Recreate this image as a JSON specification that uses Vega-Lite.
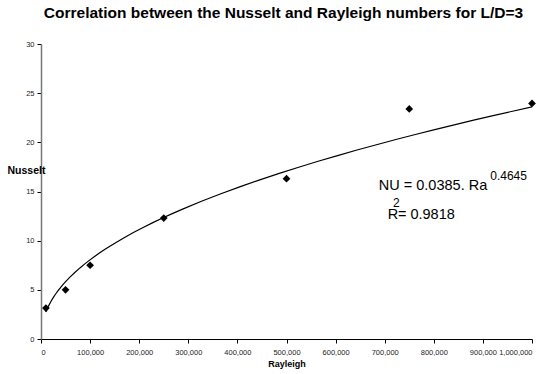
{
  "$schema": "https://vega.github.io/schema/vega-lite/v6.json",
  "autosize": {"type": "none"},
  "width": 491,
  "height": 295,
  "padding": {"left": 41, "top": 44, "right": 17, "bottom": 35},
  "background": "white",
  "config": {
    "font": "Liberation Sans",
    "view": {"stroke": null},
    "axis": {"grid": false, "labelFont": "Liberation Sans", "titleFont": "Liberation Sans"}
  },
  "title": {
    "text": "Correlation between the Nusselt and Rayleigh numbers for L/D=3",
    "fontSize": 15.5,
    "fontWeight": "bold",
    "font": "Liberation Sans",
    "color": "black",
    "anchor": "middle",
    "offset": 19,
    "dx": -3
  },
  "datasets": {
    "pts": [
      {"Rayleigh": 10000, "Nusselt": 3.15},
      {"Rayleigh": 50000, "Nusselt": 5.0},
      {"Rayleigh": 100000, "Nusselt": 7.5},
      {"Rayleigh": 250000, "Nusselt": 12.3},
      {"Rayleigh": 500000, "Nusselt": 16.3},
      {"Rayleigh": 750000, "Nusselt": 23.4},
      {"Rayleigh": 1000000, "Nusselt": 23.95}
    ],
    "notes": [
      {"Rayleigh": 688000, "Nusselt": 15.2, "label": "NU = 0.0385. Ra", "kind": "main"},
      {"Rayleigh": 915000, "Nusselt": 16.2, "label": "0.4645", "kind": "sup"},
      {"Rayleigh": 706000, "Nusselt": 12.25, "label": "R", "kind": "main"},
      {"Rayleigh": 717000, "Nusselt": 13.45, "label": "2", "kind": "sup"},
      {"Rayleigh": 727000, "Nusselt": 12.25, "label": "= 0.9818", "kind": "main"}
    ]
  },
  "encoding": {
    "x": {
      "field": "Rayleigh", "type": "quantitative",
      "scale": {"domain": [0, 1000000], "nice": false},
      "axis": {
        "values": [0, 100000, 200000, 300000, 400000, 500000, 600000, 700000, 800000, 900000, 1000000],
        "format": ",d",
        "formatType": "number",
        "labelOverlap": false,
        "labelFontSize": 7.5,
        "labelColor": "#222",
        "labelPadding": 5,
        "domainColor": "black",
        "tickColor": "black",
        "tickSize": 4,
        "title": "Rayleigh",
        "titleFontSize": 9,
        "titleFontWeight": "bold",
        "titleColor": "black",
        "titlePadding": 4
      }
    },
    "y": {
      "field": "Nusselt", "type": "quantitative",
      "scale": {"domain": [0, 30], "nice": false},
      "axis": {
        "values": [0, 5, 10, 15, 20, 25, 30],
        "labelOverlap": false,
        "labelFontSize": 7.5,
        "labelColor": "#222",
        "labelPadding": 3,
        "domainColor": "#777",
        "domainWidth": 1.5,
        "tickColor": "black",
        "tickSize": 4,
        "title": "Nusselt",
        "titleFontSize": 10.5,
        "titleFontWeight": "bold",
        "titleColor": "black",
        "titleAngle": 0,
        "titleAlign": "left",
        "titleBaseline": "middle",
        "titleX": -34,
        "titleY": 126
      }
    }
  },
  "layer": [
    {
      "data": {"name": "pts"},
      "transform": [{"regression": "Nusselt", "on": "Rayleigh", "method": "pow"}],
      "mark": {"type": "line", "color": "black", "strokeWidth": 1.2}
    },
    {
      "data": {"name": "pts"},
      "mark": {"type": "point", "shape": "diamond", "filled": true, "color": "black", "size": 60, "opacity": 1}
    },
    {
      "data": {"name": "notes"},
      "transform": [{"filter": "datum.kind == 'main'"}],
      "mark": {"type": "text", "align": "left", "baseline": "alphabetic", "fontSize": 14.5, "color": "black", "font": "Liberation Sans"},
      "encoding": {"text": {"field": "label"}}
    },
    {
      "data": {"name": "notes"},
      "transform": [{"filter": "datum.kind == 'sup'"}],
      "mark": {"type": "text", "align": "left", "baseline": "alphabetic", "fontSize": 12, "color": "black", "font": "Liberation Sans"},
      "encoding": {"text": {"field": "label"}}
    }
  ]
}
